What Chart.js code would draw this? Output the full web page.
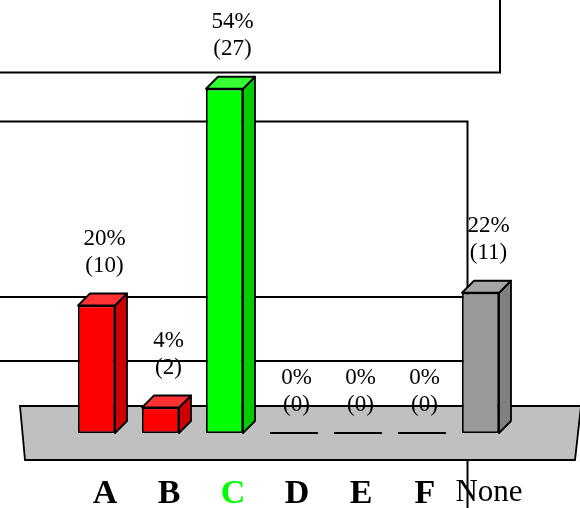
<!DOCTYPE html>
<html>
<head>
<meta charset="utf-8">
<script src="https://cdn.jsdelivr.net/npm/chart.js@4.4.0/dist/chart.umd.min.js"></script>
<style>
  html, body { margin: 0; padding: 0; background: #ffffff; }
  canvas { display: block; }
</style>
</head>
<body>
<canvas id="poll" width="580" height="508"></canvas>
<script>
// Answer choices, vote counts and share of votes
const categories = ['A', 'B', 'C', 'D', 'E', 'F', 'None'];
const responses = [10, 2, 27, 0, 0, 0, 11];
const percents = [20, 4, 54, 0, 0, 0, 22];
const correctChoice = 'C';
const noAnswer = 'None';

// Palette for the three kinds of bars: front, side, top faces
const PALETTE = {
  wrong:   { front: '#ff0000', side: '#cc0000', top: '#ff3333' },
  correct: { front: '#00ff00', side: '#00cc00', top: '#33ff33' },
  none:    { front: '#999999', side: '#808080', top: '#a6a6a6' }
};
const SERIF = '"Liberation Serif", "Times New Roman", serif';
const DEPTH_X = 12;
const DEPTH_Y = 12;
const EDGE = 1.8;

function kindOf(i) {
  if (categories[i] === correctChoice) return PALETTE.correct;
  if (categories[i] === noAnswer) return PALETTE.none;
  return PALETTE.wrong;
}

// Backdrop frames, grey floor and the extruded faces of every bar
const extrude = {
  id: 'extrude',
  beforeDatasetsDraw(chart) {
    const ctx = chart.ctx;
    const base = chart.scales.y.getPixelForValue(0);
    const area = chart.chartArea;
    ctx.save();

    // frame outlines behind the chart
    ctx.strokeStyle = '#000';
    ctx.lineWidth = 2;
    ctx.beginPath();
    ctx.moveTo(-2, 72.5); ctx.lineTo(500, 72.5); ctx.lineTo(500, -2);
    ctx.moveTo(-2, 121.5); ctx.lineTo(467.5, 121.5); ctx.lineTo(467.5, 510);
    ctx.moveTo(-2, 297); ctx.lineTo(467.5, 297);
    ctx.moveTo(-2, 361); ctx.lineTo(467.5, 361);
    ctx.stroke();

    // floor slab
    ctx.beginPath();
    ctx.moveTo(area.left - 44.5, base - 27);
    ctx.lineTo(581, base - 27);
    ctx.lineTo(575, base + 27);
    ctx.lineTo(area.left - 39.5, base + 27);
    ctx.closePath();
    ctx.fillStyle = '#c0c0c0';
    ctx.fill();
    ctx.lineWidth = EDGE;
    ctx.stroke();

    // side and top faces
    const meta = chart.getDatasetMeta(0);
    meta.data.forEach((bar, i) => {
      if (responses[i] === 0) return;
      const p = bar.getProps(['x', 'y', 'base', 'width'], true);
      const x1 = p.x - p.width / 2;
      const x2 = p.x + p.width / 2;
      const c = kindOf(i);
      ctx.lineWidth = EDGE;
      ctx.strokeStyle = '#000';
      ctx.lineJoin = 'round';
      ctx.beginPath();
      ctx.moveTo(x2, p.y);
      ctx.lineTo(x2 + DEPTH_X, p.y - DEPTH_Y);
      ctx.lineTo(x2 + DEPTH_X, p.base - DEPTH_Y);
      ctx.lineTo(x2, p.base);
      ctx.closePath();
      ctx.fillStyle = c.side;
      ctx.fill();
      ctx.stroke();
      ctx.beginPath();
      ctx.moveTo(x1, p.y);
      ctx.lineTo(x1 + DEPTH_X, p.y - DEPTH_Y);
      ctx.lineTo(x2 + DEPTH_X, p.y - DEPTH_Y);
      ctx.lineTo(x2, p.y);
      ctx.closePath();
      ctx.fillStyle = c.top;
      ctx.fill();
      ctx.stroke();
    });
    ctx.restore();
  },
  afterDatasetsDraw(chart) {
    const ctx = chart.ctx;
    const meta = chart.getDatasetMeta(0);
    ctx.save();
    // flat bars for choices nobody picked
    ctx.strokeStyle = '#000';
    ctx.lineWidth = 2;
    meta.data.forEach((bar, i) => {
      if (responses[i] !== 0) return;
      const p = bar.getProps(['x', 'base', 'width'], true);
      ctx.beginPath();
      ctx.moveTo(p.x - p.width / 2, p.base);
      ctx.lineTo(p.x + p.width / 2 + DEPTH_X - 1, p.base);
      ctx.stroke();
    });
    // percentage and count above each bar
    ctx.font = '23px ' + SERIF;
    ctx.fillStyle = '#000';
    ctx.textAlign = 'center';
    ctx.textBaseline = 'middle';
    meta.data.forEach((bar, i) => {
      const p = bar.getProps(['x', 'y', 'base'], true);
      const anchor = responses[i] > 0 ? p.y - DEPTH_Y : p.base;
      const x = p.x + 8;
      ctx.fillText(percents[i] + '%', x, anchor - 55);
      ctx.fillText('(' + responses[i] + ')', x, anchor - 28);
    });
    ctx.restore();
  }
};

new Chart(document.getElementById('poll'), {
  type: 'bar',
  data: {
    labels: categories,
    datasets: [{
      data: responses,
      backgroundColor: categories.map((_, i) => kindOf(i).front),
      borderColor: '#000000',
      borderWidth: ctx => (responses[ctx.dataIndex] === 0 ? 0 : EDGE),
      borderSkipped: false,
      inflateAmount: 0,
      barThickness: 37
    }]
  },
  options: {
    responsive: false,
    animation: false,
    devicePixelRatio: 1,
    layout: { padding: { left: 64.5, right: 67.5, top: 50.5, bottom: 0 } },
    plugins: { legend: { display: false }, tooltip: { enabled: false } },
    scales: {
      y: { display: false, min: 0, max: 30 },
      x: {
        grid: { display: false, drawTicks: false },
        border: { display: false },
        afterFit: scale => { scale.height = 75; },
        ticks: {
          autoSkip: false,
          maxRotation: 0,
          labelOffset: 8.5,
          padding: 41,
          color: c => (categories[c.index] === correctChoice ? '#00ff00' : '#000000'),
          font: c => (categories[c.index] === noAnswer
            ? { family: SERIF, size: 31, weight: 'normal' }
            : { family: SERIF, size: 34, weight: 'bold' })
        }
      }
    }
  },
  plugins: [extrude]
});
</script>
</body>
</html>
